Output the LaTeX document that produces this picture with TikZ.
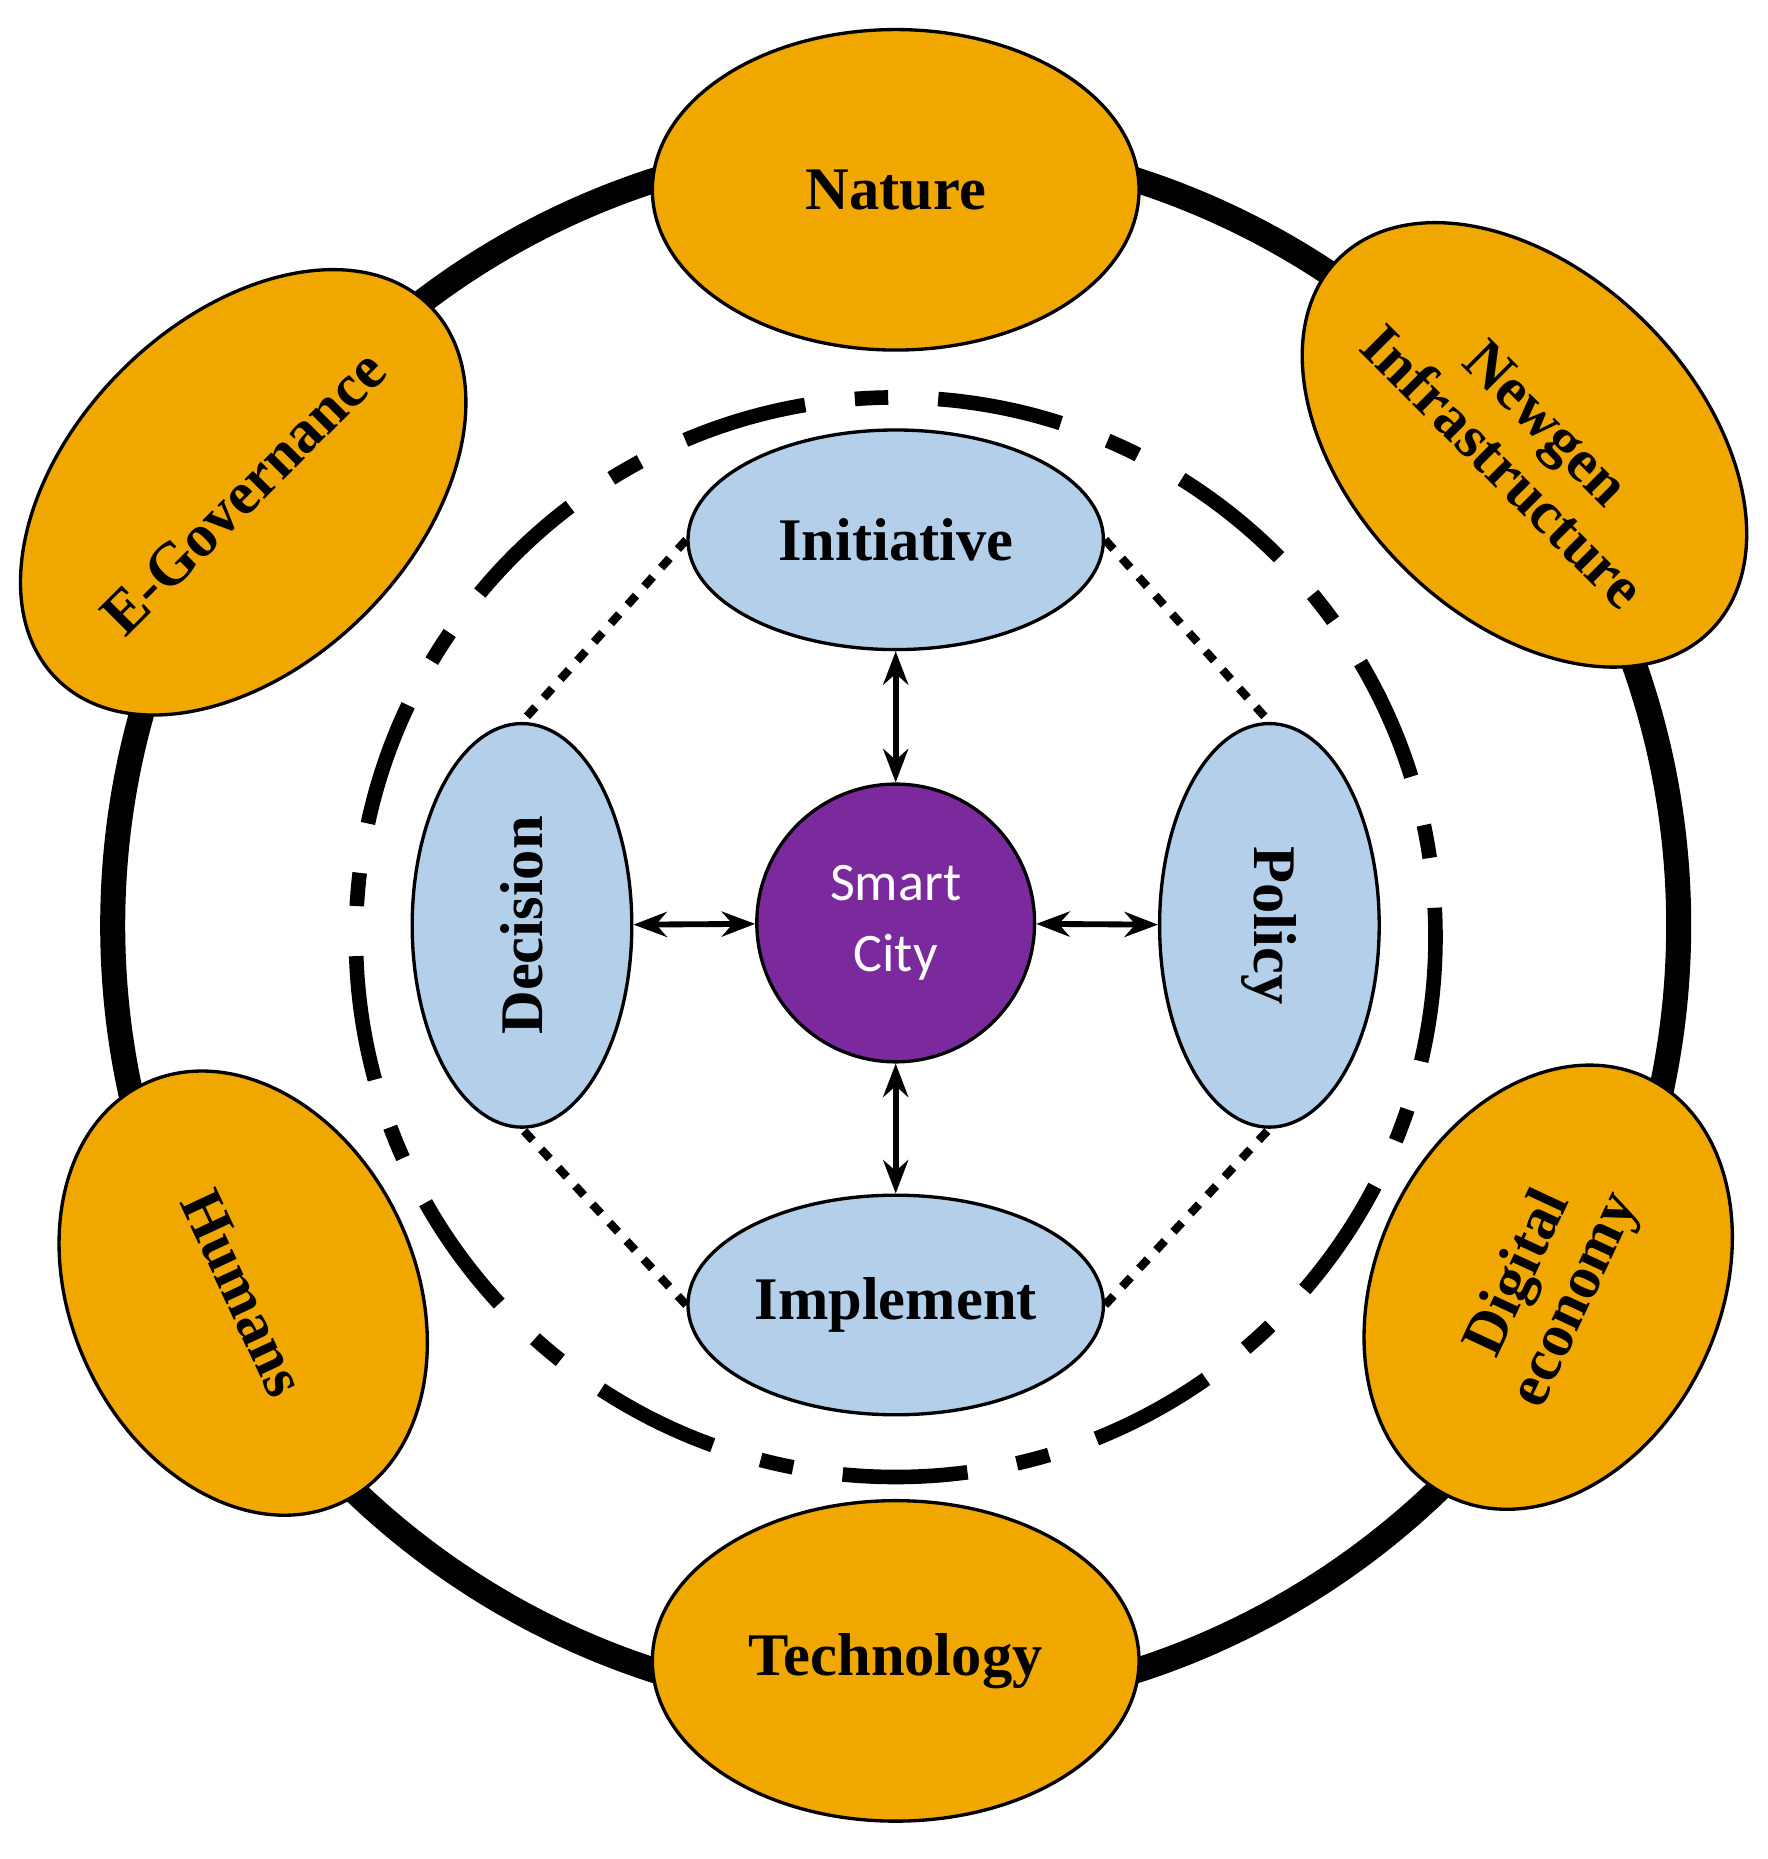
\documentclass[tikz,border=0pt]{standalone}
\usepackage{fontspec}
\setmainfont{Liberation Serif}
\newfontfamily\cityfont{Carlito}
\usetikzlibrary{shapes.geometric,arrows.meta}
\definecolor{pillar}{HTML}{F0A800}
\definecolor{stage}{HTML}{B4CFE9}
\definecolor{core}{HTML}{7B2A9E}
\tikzset{
  pillar/.style={ellipse,draw,fill=pillar,thick,inner sep=0pt,minimum width=4.1cm,minimum height=2.7cm,
    font=\bfseries\fontsize{14.5}{15}\selectfont,align=center},
  stage/.style={ellipse,draw,fill=stage,thick,inner sep=0pt,minimum width=3.5cm,minimum height=1.85cm,
    font=\bfseries\fontsize{14.5}{16}\selectfont},
  link/.style={line width=1.4pt,{Stealth[length=8pt]}-{Stealth[length=8pt]}},
  dots/.style={line width=2pt,dash pattern=on 3pt off 3pt}
}
\begin{document}
\begin{tikzpicture}[x=0.01cm,y=-0.01cm]
  \useasboundingbox (0,0) rectangle (1490,1567);
  % rings
  \draw[line width=6pt] (755,780) circle[radius=660];
  \draw[line width=3.5pt,dash pattern=on 30pt off 12pt on 8pt off 12pt] (755,790) circle[radius=455];

  % outer pillars
  \node[pillar] (nat) at (755,160) {Nature};
  \node[pillar] (tech) at (755,1400) {Technology};
  \node[pillar,rotate=45,minimum width=3.9cm,minimum height=2.9cm] (egov) at (205,415) {E-Governance};
  \node[pillar,rotate=-45,minimum width=3.9cm,minimum height=2.9cm] (newg) at (1285,375) {Newgen\\Infrastructure};
  \node[pillar,rotate=-65,minimum width=3.9cm,minimum height=2.9cm] (hum) at (205,1090) {Humans};
  \node[pillar,rotate=65,minimum width=3.9cm,minimum height=2.9cm] (dig) at (1305,1085) {Digital\\economy};

  % inner stages
  \node[stage] (init) at (755,455) {Initiative};
  \node[stage] (impl) at (755,1100) {Implement};
  \node[stage,rotate=90,minimum width=3.4cm] (dec) at (440,780) {Decision};
  \node[stage,rotate=-90,minimum width=3.4cm] (pol) at (1070,780) {Policy};

  \node[circle,draw,thick,fill=core,minimum size=2.34cm,text=white,align=center,
    font=\cityfont\fontsize{13}{17}\selectfont] (city) at (755,778) {Smart\\City};

  \draw[link] (init) -- (city);
  \draw[link] (impl) -- (city);
  \draw[link] (dec) -- (city);
  \draw[link] (pol) -- (city);

  \draw[dots] (init.east) -- (pol.west);
  \draw[dots] (init.west) -- (dec.east);
  \draw[dots] (impl.east) -- (pol.east);
  \draw[dots] (impl.west) -- (dec.west);
\end{tikzpicture}
\end{document}
